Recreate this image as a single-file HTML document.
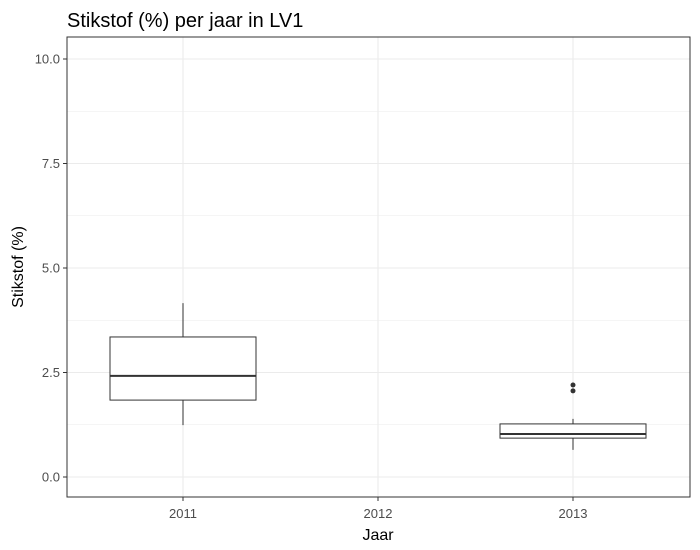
<!DOCTYPE html>
<html><head><meta charset="utf-8"><style>body{margin:0;background:#fff}svg{display:block;font-family:"Liberation Sans",sans-serif}</style></head>
<body>
<svg width="700" height="550">
<text x="67" y="27" font-size="20" fill="#000">Stikstof (%) per jaar in LV1</text>
<g id="grid"></g>
<g id="marks"></g>
<rect x="67" y="37" width="623" height="460" fill="none" stroke="#333" stroke-width="1"/>
<g id="axes"></g>
<text x="378" y="540" font-size="16" text-anchor="middle" fill="#000">Jaar</text>
<text transform="translate(23,267) rotate(-90)" font-size="16" text-anchor="middle" fill="#000">Stikstof (%)</text>
</svg>
<script>
const categories=["2011","2012","2013"];
const lowerWhisker=[1.24,null,0.65];
const q1=[1.84,null,0.93];
const median=[2.42,null,1.03];
const q3=[3.35,null,1.27];
const upperWhisker=[4.16,null,1.39];
const outliers=[[],[],[2.2,2.06]];
const yTicks=[0,2.5,5,7.5,10];
const yTickLabels=["0.0","2.5","5.0","7.5","10.0"];
const NS="http://www.w3.org/2000/svg";
function y(v){return 477-v*41.8;}
function x(i){return 183+i*195;}
function mk(t,a,p){const e=document.createElementNS(NS,t);for(const k in a)e.setAttribute(k,a[k]);p.appendChild(e);return e;}
const grid=document.getElementById('grid'),marks=document.getElementById('marks'),axes=document.getElementById('axes');
for(let k=0;k<yTicks.length;k++){
 const l=mk('line',{x1:67,x2:690,y1:y(yTicks[k]),y2:y(yTicks[k]),stroke:'#ebebeb','stroke-width':1.1},grid);
 
 if(k<yTicks.length-1){const m=mk('line',{x1:67,x2:690,y1:y((yTicks[k]+yTicks[k+1])/2),y2:y((yTicks[k]+yTicks[k+1])/2),stroke:'#ebebeb','stroke-width':0.6},grid);
 }
 mk('line',{x1:63,x2:67,y1:y(yTicks[k]),y2:y(yTicks[k]),stroke:'#333'},axes);
 const t=mk('text',{x:60,y:y(yTicks[k])+4.5,'font-size':13,'text-anchor':'end',fill:'#4d4d4d'},axes);
 t.textContent=yTickLabels[k];
}
categories.forEach((c,i)=>{
 const g=mk('line',{x1:x(i),x2:x(i),y1:37,y2:497,stroke:'#ebebeb','stroke-width':1.1},grid);
 
 mk('line',{x1:x(i),x2:x(i),y1:497,y2:501,stroke:'#333'},axes);
 const t=mk('text',{x:x(i),y:518,'font-size':13,'text-anchor':'middle',fill:'#4d4d4d'},axes);
 t.textContent=c;
 if(median[i]==null)return;
 const hw=73;
 const w=mk('line',{x1:x(i),x2:x(i),y1:y(upperWhisker[i]),y2:y(lowerWhisker[i]),stroke:'#333','stroke-width':1},marks);
 
 const b=mk('rect',{x:x(i)-hw,y:y(q3[i]),width:2*hw,height:y(q1[i])-y(q3[i]),fill:'#fff',stroke:'#333','stroke-width':1},marks);
 
 const m=mk('line',{x1:x(i)-hw,x2:x(i)+hw,y1:y(median[i]),y2:y(median[i]),stroke:'#333','stroke-width':2},marks);
 
 outliers[i].forEach(v=>{const p=mk('circle',{cx:x(i),cy:y(v),r:2.5,fill:'#333'},marks);
 });
});
</script>
</body></html>
